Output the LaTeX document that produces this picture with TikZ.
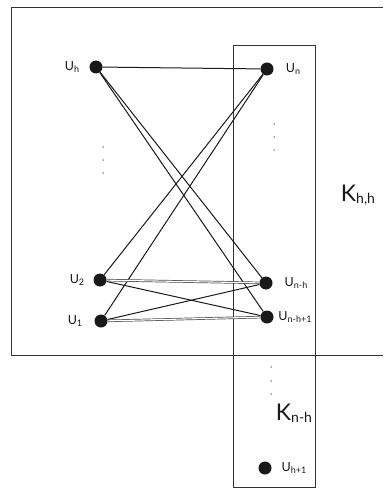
\documentclass[tikz,border=0pt]{standalone}
\usepackage{fontspec}
\setmainfont{Lato}
\newcommand\lsub[1]{\raisebox{-0.12em}{\fontsize{9}{10}\selectfont #1}}
\newcommand\bsub[1]{\raisebox{-0.1em}{\fontsize{14}{16}\selectfont #1}}
\begin{document}
\begin{tikzpicture}[x=1pt,y=-1pt,
  vtx/.style={circle,fill=black!90,inner sep=0pt,minimum size=13pt},
  lbl/.style={inner sep=0pt,font=\fontsize{12.5}{14}\selectfont,text=black!90},
  big/.style={inner sep=0pt,font=\fontsize{23}{25}\selectfont,text=black!90},
  dotv/.style={circle,fill=black!70,inner sep=0pt,minimum size=1.5pt},
  edge/.style={draw=black!90,line width=1pt},
  dedge/.style={draw=black!70,line width=0.7pt,double=white,double distance=1.1pt},
  frame/.style={draw=black!80,line width=0.9pt}]
\useasboundingbox (0,0) rectangle (383,489);
% frames
\draw[frame] (383,7) -- (11,7) -- (11,355) -- (383,355);
\draw[frame] (233,45) rectangle (315,487);
% vertices
\node[vtx] (uh) at (96,67) {};
\node[vtx] (un) at (267,69) {};
\node[vtx] (u2) at (100,280) {};
\node[vtx] (u1) at (101,321) {};
\node[vtx] (unh) at (266,283) {};
\node[vtx] (unh1) at (267,317) {};
\node[vtx] (uh1) at (265,468) {};
% labels
\node[lbl] (luh) at (72,67) {U\lsub{h}};
\node[lbl] (lun) at (293,69) {U\lsub{n}};
\node[lbl] (lu2) at (77,280) {U\lsub{2}};
\node[lbl] (lu1) at (75,321) {U\lsub{1}};
\node[lbl] (lunh) at (296,283) {U\lsub{n-h}};
\node[lbl] (lunh1) at (295,317) {U\lsub{n-h+1}};
\node[lbl] (luh1) at (294,468) {U\lsub{h+1}};
\node[big] (khh) at (358,195) {K\bsub{h,h}};
\node[big] (knh) at (294,413) {K\bsub{n-h}};
% vertical dots
\foreach \y [count=\i] in {147,160,173} \node[dotv] (dl\i) at (103,\y) {};
\foreach \y [count=\i] in {124,137,150} \node[dotv] (dr\i) at (274,\y) {};
\foreach \y [count=\i] in {367,381,394} \node[dotv] (db\i) at (271,\y) {};
% edges
\draw[edge] (uh) -- (un);
\draw[edge] (uh) -- (unh);
\draw[edge] (uh) -- (unh1);
\draw[edge] (un) -- (u2);
\draw[edge] (un) -- (u1);
\draw[dedge] (u2) -- (unh);
\draw[edge] (u2) -- (unh1);
\draw[edge] (u1) -- (unh);
\draw[dedge] (u1) -- (unh1);
\end{tikzpicture}
\end{document}
